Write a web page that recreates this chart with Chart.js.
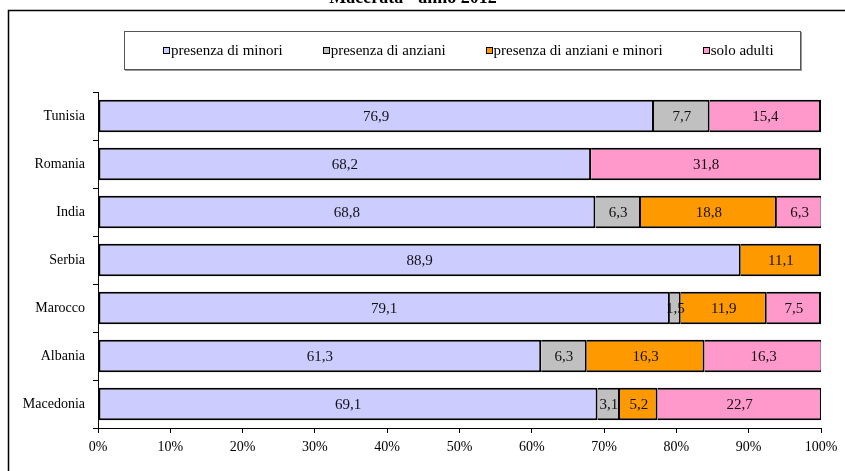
<!DOCTYPE html>
<html>
<head>
<meta charset="utf-8">
<script src="https://cdn.jsdelivr.net/npm/chart.js@4"></script>
<style>
  body { margin: 0; background: #fff; }
  #wrap { position: relative; width: 845px; height: 471px; overflow: hidden; }
  #legend {
    position: absolute; left: 124px; top: 31px; width: 677px; height: 39px;
    border: 1px solid #555; box-shadow: 1px 1px 0 #999;
    font: 15px "Liberation Serif", serif; color: #000; white-space: nowrap;
    display: flex; align-items: center; padding-left: 38px; box-sizing: border-box;
  }
  #legend span.item { display: inline-flex; align-items: center; margin-right: 40px; flex-shrink: 0; }
  #legend span.sw { width: 5px; height: 5px; border: 1.5px solid #000; margin-right: 1px; }
</style>
</head>
<body>
<div id="wrap">
  <canvas id="myChart" width="845" height="471"></canvas>
  <div id="legend"></div>
</div>
<script>
const title = 'Macerata - anno 2012';
const countries = ['Tunisia', 'Romania', 'India', 'Serbia', 'Marocco', 'Albania', 'Macedonia'];
const seriesNames = ['presenza di minori', 'presenza di anziani', 'presenza di anziani e minori', 'solo adulti'];
const minori        = [76.9, 68.2, 68.8, 88.9, 79.1, 61.3, 69.1];
const anziani       = [7.7,  0,    6.3,  0,    1.5,  6.3,  3.1];
const anzianiMinori = [0,    0,    18.8, 11.1, 11.9, 16.3, 5.2];
const soloAdulti    = [15.4, 31.8, 6.3,  0,    7.5,  16.3, 22.7];
const colors = ['#CCCCFF', '#C0C0C0', '#FF9900', '#FF99CC'];

const serif = '"Liberation Serif", "Times New Roman", serif';

// legend (html)
const leg = document.getElementById('legend');
seriesNames.forEach((n, i) => {
  const it = document.createElement('span');
  it.className = 'item';
  it.innerHTML = '<span class="sw" style="background:' + colors[i] + '"></span>' + n;
  leg.appendChild(it);
});

// frame + title
const framePlugin = {
  id: 'frame',
  beforeDraw(chart) {
    const c = chart.ctx;
    c.save();
    c.fillStyle = '#fff';
    c.fillRect(0, 0, chart.width, chart.height);
    c.strokeStyle = '#000';
    c.lineWidth = 1.5;
    c.strokeRect(8.5, 10.5, 900, 600);
    c.fillStyle = '#000';
    c.font = 'bold 18px ' + serif;
    c.textAlign = 'center';
    c.textBaseline = 'alphabetic';
    c.fillText(title, 413, 3);
    c.restore();
  }
};

// value labels in the middle of each segment
const valueLabels = {
  id: 'valueLabels',
  afterDatasetsDraw(chart) {
    const c = chart.ctx;
    c.save();
    c.font = '15px ' + serif;
    c.fillStyle = '#111';
    c.textAlign = 'center';
    c.textBaseline = 'middle';
    chart.data.datasets.forEach((ds, i) => {
      chart.getDatasetMeta(i).data.forEach((bar, j) => {
        const v = ds.data[j];
        if (!v) return;
        const x = (bar.x + bar.base) / 2;
        c.fillText(v.toFixed(1).replace('.', ','), x, bar.y + 1);
      });
    });
    c.restore();
  }
};

const config = {
  type: 'bar',
  data: {
    labels: countries,
    datasets: [minori, anziani, anzianiMinori, soloAdulti].map((d, i) => ({
      label: seriesNames[i],
      data: d,
      backgroundColor: colors[i],
      borderColor: '#000',
      borderWidth: c => (c.raw ? 2 : 0),
      borderSkipped: i === 0 ? false : 'start',
      barPercentage: 0.68,
      categoryPercentage: 1
    }))
  },
  options: {
    indexAxis: 'y',
    responsive: false,
    animation: false,
    devicePixelRatio: 1,
    layout: { padding: { top: 92, right: 24, left: 0, bottom: 0 } },
    plugins: { legend: { display: false }, tooltip: { enabled: false } },
    scales: {
      x: {
        stacked: true,
        min: 0,
        max: 100,
        afterFit(s) { s.height = 43; },
        ticks: {
          stepSize: 10,
          color: '#000',
          font: { family: serif, size: 14 },
          padding: 6,
          callback: v => v + '%'
        },
        grid: { drawOnChartArea: false, tickLength: 5, color: '#000' },
        border: { color: '#000', width: 1 }
      },
      y: {
        stacked: true,
        afterFit(s) { s.width = 98; },
        ticks: {
          color: '#000',
          font: { family: serif, size: 14 },
          padding: 8
        },
        grid: { drawOnChartArea: false, offset: true, tickLength: 5, color: '#000' },
        border: { color: '#000', width: 1 }
      }
    }
  },
  plugins: [framePlugin, valueLabels]
};

const ctx = document.getElementById('myChart').getContext('2d');
const myChart = new Chart(ctx, config);
</script>
</body>
</html>
